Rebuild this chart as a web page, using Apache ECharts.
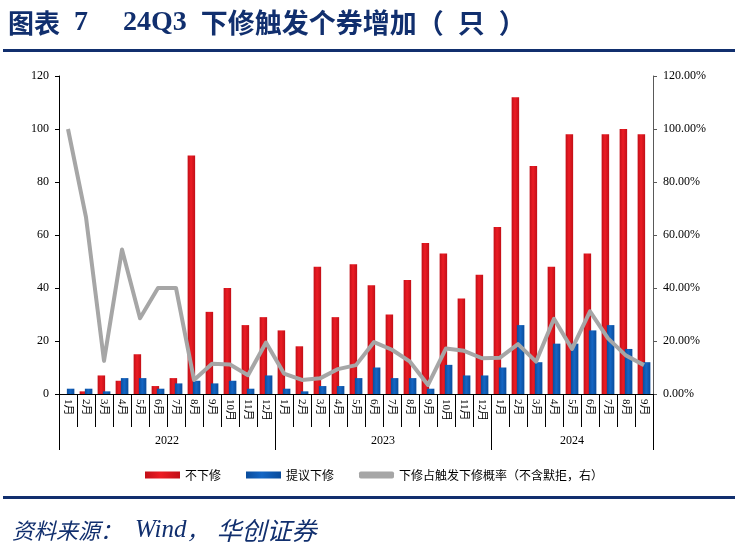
<!DOCTYPE html>
<html>
<head>
<meta charset="utf-8">
<script src="https://cdn.jsdelivr.net/npm/echarts@6/dist/echarts.min.js"></script>
<style>
html,body{margin:0;padding:0;background:#fff;}
#c{width:738px;height:548px;}
</style>
</head>
<body>
<div id="c"></div>
<script>
// ---- data ----
var years = ['2022', '2023', '2024'];
var monthsPerYear = [12, 12, 9];
var categories = ['1月','2月','3月','4月','5月','6月','7月','8月','9月','10月','11月','12月',
                  '1月','2月','3月','4月','5月','6月','7月','8月','9月','10月','11月','12月',
                  '1月','2月','3月','4月','5月','6月','7月','8月','9月'];
var noRevise = [0,1,7,5,15,3,6,90,31,40,26,29,
                24,18,48,29,49,41,30,43,57,53,36,45,
                63,112,86,48,98,53,98,100,98];
var proposeRevise = [2,2,1,6,6,2,4,5,4,5,2,7,
                     2,1,3,3,6,10,6,6,2,11,7,7,
                     10,26,12,19,19,24,26,17,12];
var revisePct = [100,66.7,12.5,54.5,28.6,40,40,5.3,11.4,11.1,7.1,19.4,
                 7.7,5.3,5.9,9.4,10.9,19.6,16.7,12.2,3.4,17.2,16.3,13.5,
                 13.7,18.8,12.2,28.4,17.0,31.2,21.0,14.5,10.9];
var leftTicks = [0, 120, 20];
var rightTicks = [0, 1.2, 0.2];

// ---- derived helpers ----
var yearAxisData = [];
var yearStart = [];
var yearLabelIdx = {};
(function () {
  var idx = 0;
  years.forEach(function (y, i) {
    yearStart.push(idx);
    for (var k = 0; k < monthsPerYear[i]; k++) yearAxisData.push(y);
    yearLabelIdx[idx + Math.floor((monthsPerYear[i] - 1) / 2)] = (monthsPerYear[i] % 2 === 0);
    idx += monthsPerYear[i];
  });
})();

var serif = '"Liberation Serif", "Times New Roman", "Noto Sans CJK SC", serif';
var cjk = '"Noto Sans CJK SC", sans-serif';
var navy = '#112F6E';

var chart = echarts.init(document.getElementById('c'), null, {renderer: 'canvas'});
chart.setOption({
  animation: false,
  backgroundColor: '#fff',
  title: [{
    text: '{h|图表}{l|  7     24Q3  }{c|下修触发个券增加（}{l|  }{c|只}{l|  }{c|）}',
    left: 3, top: 4,
    textStyle: {
      fontSize: 26, fontWeight: 'bold', color: navy, fontFamily: serif,
      rich: {
        h: {fontSize: 26, fontWeight: 'bold', color: navy, fontFamily: cjk},
        c: {fontSize: 27, fontWeight: 'bold', color: navy, fontFamily: cjk},
        l: {fontSize: 28, fontWeight: 'bold', color: navy, fontFamily: serif}
      }
    }
  }, {
    text: '{a|资料来源：}{w|Wind}{a|，}{b|华创证券}',
    left: 7, top: 513,
    textStyle: {
      fontSize: 22, fontStyle: 'italic', color: navy, fontFamily: cjk,
      rich: {
        a: {fontSize: 22, fontStyle: 'italic', fontWeight: 'normal', color: navy, fontFamily: cjk},
        w: {fontSize: 25, fontStyle: 'italic', fontWeight: 'normal', color: navy, fontFamily: serif, padding: [0, 0, 0, 13]},
        b: {fontSize: 25, fontStyle: 'italic', fontWeight: 'normal', color: navy, fontFamily: cjk, padding: [0, 0, 0, 8]}
      }
    }
  }],
  graphic: [
    {type: 'rect', shape: {x: 3, y: 49, width: 732, height: 3}, style: {fill: navy}},
    {type: 'rect', shape: {x: 3, y: 496, width: 732, height: 3}, style: {fill: navy}}
  ],
  legend: {
    left: 140, top: 464,
    itemWidth: 35, itemHeight: 7, itemGap: 25,
    textStyle: {fontSize: 12, color: '#000', fontFamily: cjk},
    data: [
      {name: '不下修', icon: 'rect'},
      {name: '提议下修', icon: 'rect'},
      {name: '下修占触发下修概率（不含默拒，右）', icon: 'roundRect'}
    ]
  },
  grid: {left: 59, right: 85, top: 76, bottom: 154, containLabel: false},
  xAxis: [{
    type: 'category',
    data: categories,
    position: 'bottom',
    axisLine: {show: true, lineStyle: {color: '#000', width: 1}},
    axisTick: {show: true, interval: 0, length: 33, lineStyle: {color: '#000', width: 1}},
    axisLabel: {interval: 0, rotate: -90, margin: 5, fontSize: 11, color: '#000', fontFamily: serif}
  }, {
    type: 'category',
    data: yearAxisData,
    position: 'bottom',
    axisLine: {show: false},
    axisTick: {
      show: true, length: 56, lineStyle: {color: '#000', width: 1},
      interval: function (index) { return yearStart.indexOf(index) >= 0; }
    },
    axisLabel: {
      margin: 41, fontSize: 12, color: '#000', fontFamily: serif,
      interval: function (index) { return yearLabelIdx.hasOwnProperty(index); },
      formatter: function (v, index) {
        return yearLabelIdx[index] ? '{s|' + v + '}' : v;
      },
      rich: {s: {padding: [0, 0, 0, 18], fontSize: 12, color: '#000', fontFamily: serif}}
    }
  }],
  yAxis: [{
    type: 'value',
    min: leftTicks[0], max: leftTicks[1], interval: leftTicks[2],
    axisLine: {show: true, lineStyle: {color: '#000', width: 1}},
    axisTick: {show: true, length: 4, lineStyle: {color: '#000'}},
    splitLine: {show: false},
    axisLabel: {margin: 10, fontSize: 12, color: '#000', fontFamily: serif}
  }, {
    type: 'value',
    min: rightTicks[0], max: rightTicks[1], interval: rightTicks[2],
    position: 'right',
    axisLine: {show: true, lineStyle: {color: '#595959', width: 1}},
    axisTick: {show: true, length: 4, lineStyle: {color: '#595959'}},
    splitLine: {show: false},
    axisLabel: {
      margin: 10, fontSize: 12, color: '#000', fontFamily: serif,
      formatter: function (v) { return (v * 100).toFixed(2) + '%'; }
    }
  }],
  series: [{
    name: '不下修',
    type: 'bar',
    xAxisIndex: 0, yAxisIndex: 0,
    data: noRevise,
    barWidth: 7.5,
    barGap: '-30%',
    itemStyle: {
      color: new echarts.graphic.LinearGradient(0, 0, 1, 0, [
        {offset: 0, color: '#C20F17'}, {offset: 0.45, color: '#EC1C24'}, {offset: 1, color: '#C20F17'}
      ])
    }
  }, {
    name: '提议下修',
    type: 'bar',
    xAxisIndex: 0, yAxisIndex: 0,
    data: proposeRevise,
    barWidth: 7.5,
    itemStyle: {
      color: new echarts.graphic.LinearGradient(0, 0, 1, 0, [
        {offset: 0, color: '#0A4C9C'}, {offset: 0.45, color: '#1466C4'}, {offset: 1, color: '#0A4C9C'}
      ])
    }
  }, {
    name: '下修占触发下修概率（不含默拒，右）',
    type: 'line',
    xAxisIndex: 0, yAxisIndex: 1,
    data: revisePct.map(function (v) { return v / 100; }),
    symbol: 'none',
    z: 5,
    itemStyle: {color: '#A6A6A6'},
    lineStyle: {color: '#A6A6A6', width: 4, join: 'round'}
  }]
});
</script>
</body>
</html>
